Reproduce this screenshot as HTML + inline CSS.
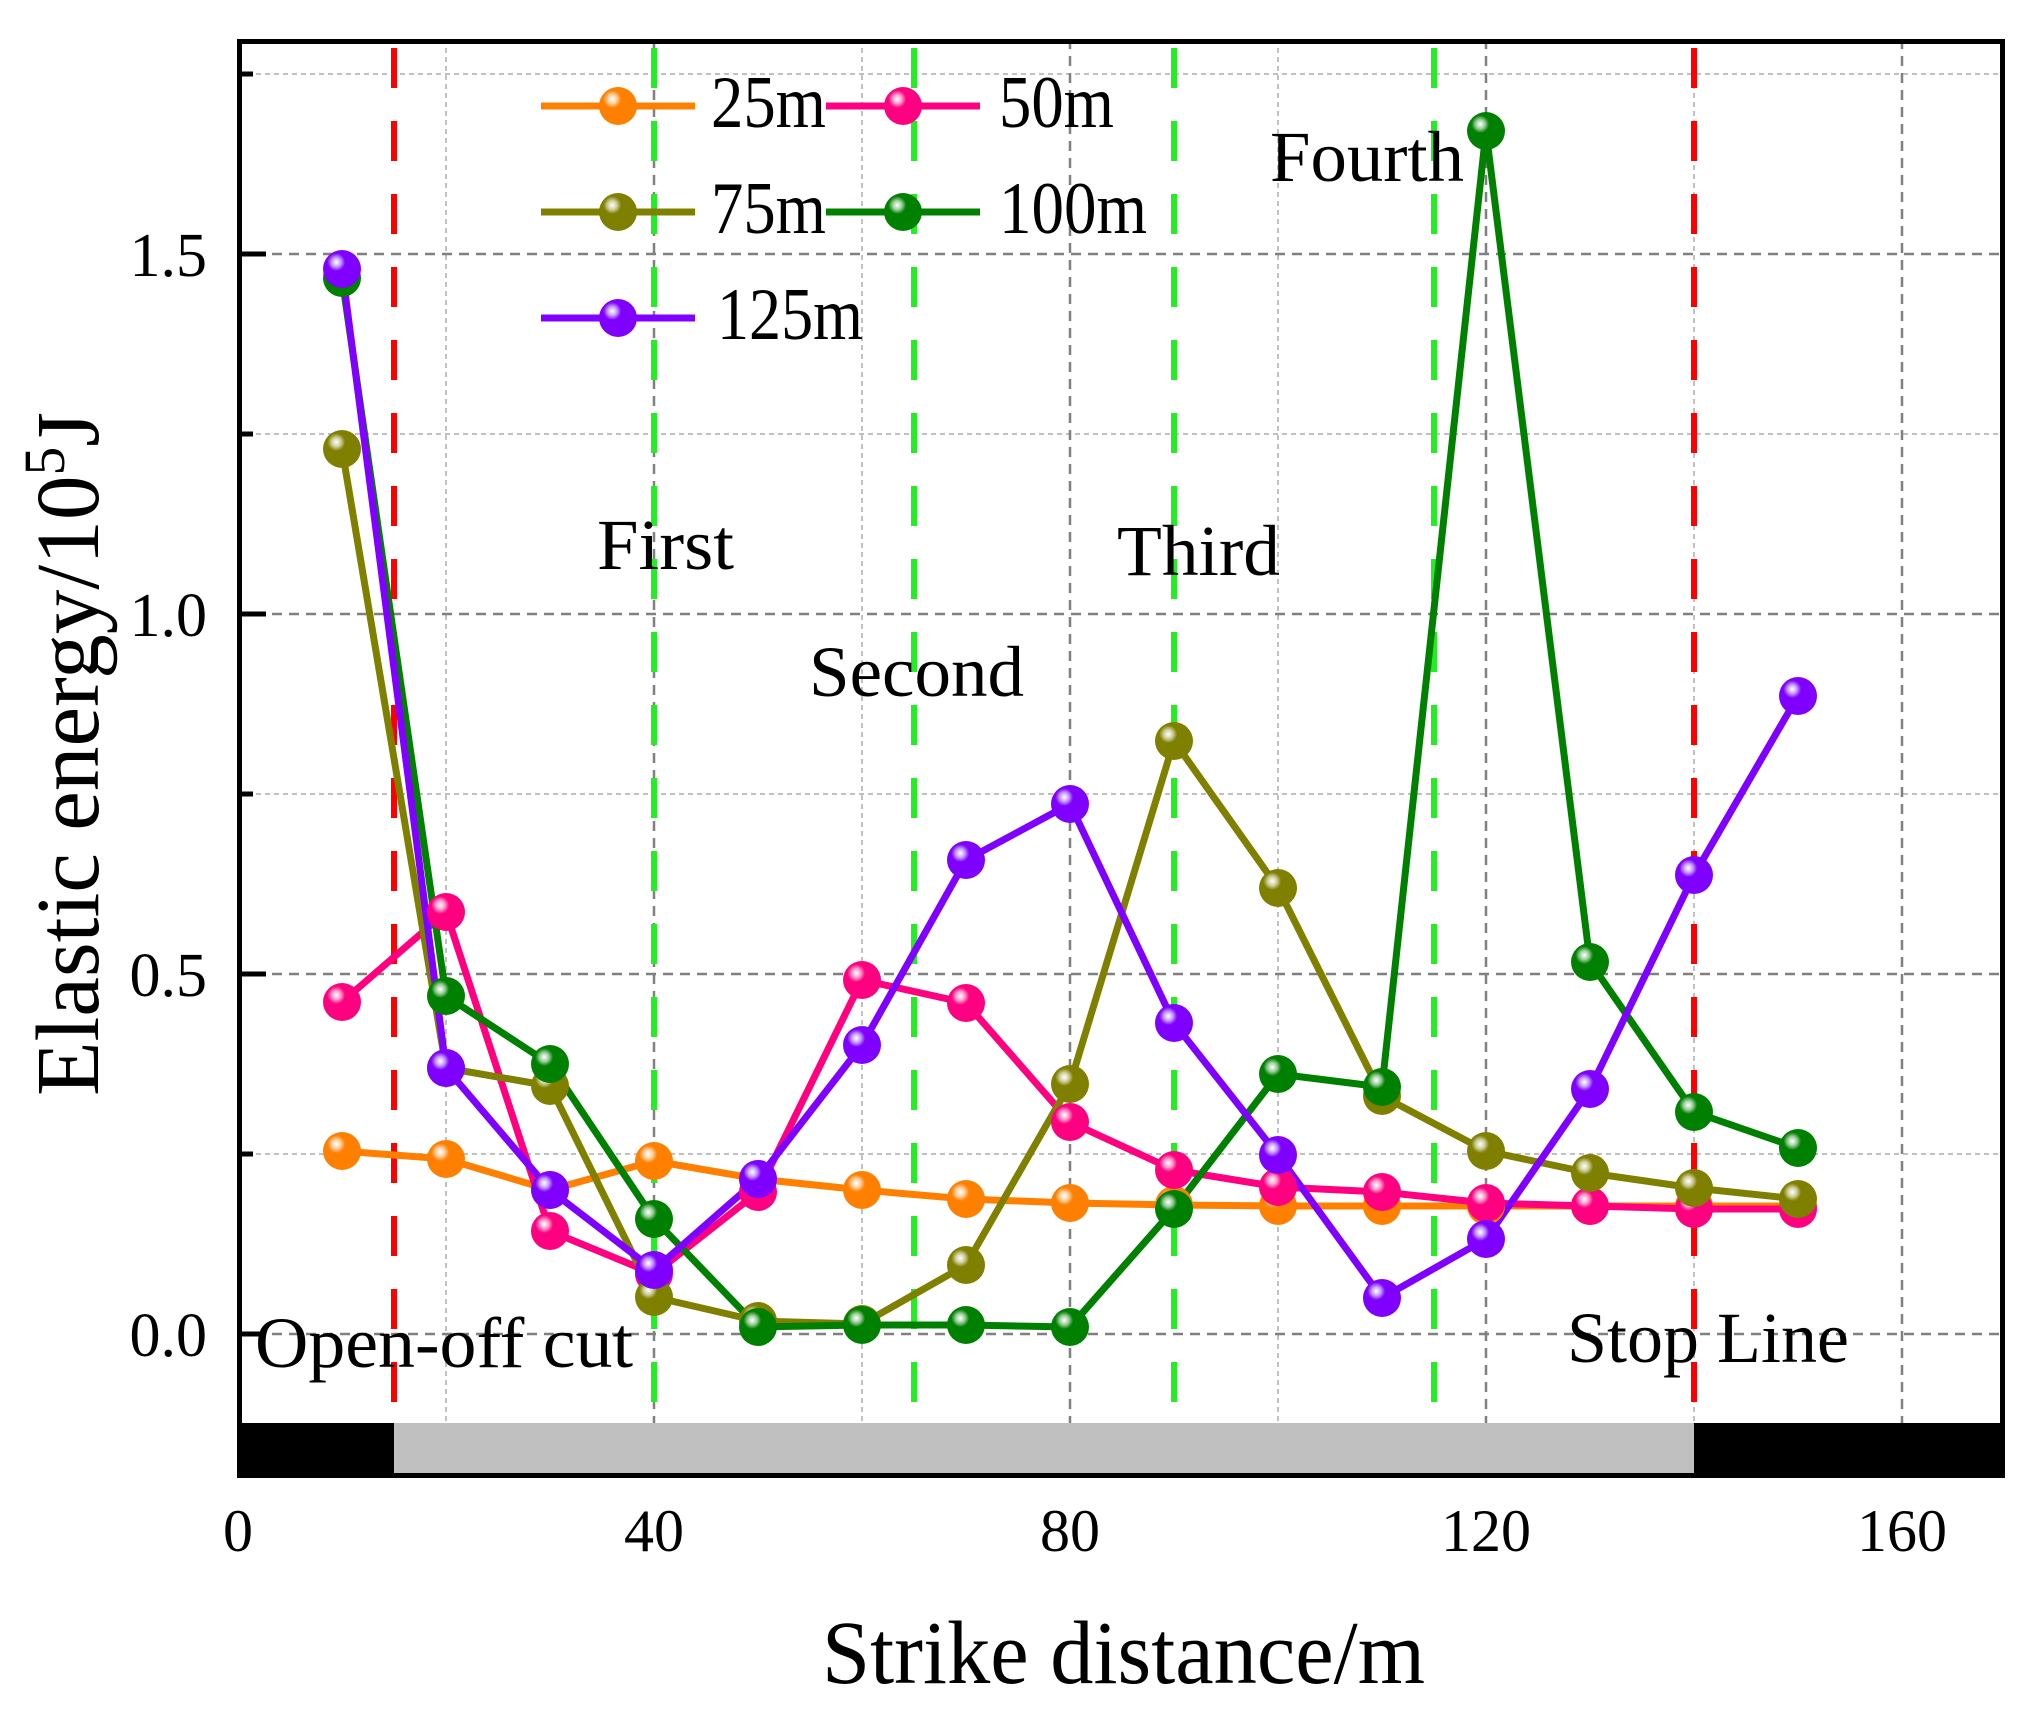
<!DOCTYPE html>
<html><head><meta charset="utf-8"><style>html,body{margin:0;padding:0;background:#fff}svg{display:block}</style></head>
<body>
<svg width="2028" height="1709" viewBox="0 0 2028 1709" xmlns="http://www.w3.org/2000/svg" font-family="Liberation Serif, serif">
<defs>
<radialGradient id="g25" cx="0.35" cy="0.32" r="0.65"><stop offset="0" stop-color="#fff"/><stop offset="0.18" stop-color="#ffd0a0"/><stop offset="0.36" stop-color="#ff8000"/><stop offset="1" stop-color="#ff8000"/></radialGradient>
<radialGradient id="g50" cx="0.35" cy="0.32" r="0.65"><stop offset="0" stop-color="#fff"/><stop offset="0.18" stop-color="#ff9ccc"/><stop offset="0.36" stop-color="#ff0080"/><stop offset="1" stop-color="#ff0080"/></radialGradient>
<radialGradient id="g75" cx="0.35" cy="0.32" r="0.65"><stop offset="0" stop-color="#fff"/><stop offset="0.18" stop-color="#d0d0a0"/><stop offset="0.36" stop-color="#808000"/><stop offset="1" stop-color="#808000"/></radialGradient>
<radialGradient id="g100" cx="0.35" cy="0.32" r="0.65"><stop offset="0" stop-color="#fff"/><stop offset="0.18" stop-color="#a0d0a0"/><stop offset="0.36" stop-color="#008000"/><stop offset="1" stop-color="#008000"/></radialGradient>
<radialGradient id="g125" cx="0.35" cy="0.32" r="0.65"><stop offset="0" stop-color="#fff"/><stop offset="0.18" stop-color="#c8a0ff"/><stop offset="0.36" stop-color="#8000ff"/><stop offset="1" stop-color="#8000ff"/></radialGradient>
</defs>
<g stroke="#c0c0c0" stroke-width="2" stroke-dasharray="5 4" fill="none">
<line x1="446" y1="39" x2="446" y2="1423"/><line x1="862" y1="39" x2="862" y2="1423"/><line x1="1278" y1="39" x2="1278" y2="1423"/><line x1="1694" y1="39" x2="1694" y2="1423"/>
<line x1="238" y1="74" x2="2005" y2="74"/><line x1="238" y1="434" x2="2005" y2="434"/><line x1="238" y1="794" x2="2005" y2="794"/><line x1="238" y1="1154" x2="2005" y2="1154"/>
</g>
<g stroke="#808080" stroke-width="2.5" stroke-dasharray="10 7" fill="none">
<line x1="654" y1="39" x2="654" y2="1423"/><line x1="1070" y1="39" x2="1070" y2="1423"/><line x1="1486" y1="39" x2="1486" y2="1423"/><line x1="1902" y1="39" x2="1902" y2="1423"/>
<line x1="238" y1="254" x2="2005" y2="254"/><line x1="238" y1="614" x2="2005" y2="614"/><line x1="238" y1="974" x2="2005" y2="974"/><line x1="238" y1="1334" x2="2005" y2="1334"/>
</g>
<g stroke-width="6" stroke-dasharray="40 33" fill="none">
<line x1="394" y1="48" x2="394" y2="1403" stroke="#ff0000"/>
<line x1="1694" y1="48" x2="1694" y2="1403" stroke="#ff0000"/>
<line x1="654" y1="48" x2="654" y2="1403" stroke="#22ee22"/>
<line x1="914" y1="48" x2="914" y2="1403" stroke="#22ee22"/>
<line x1="1174" y1="48" x2="1174" y2="1403" stroke="#22ee22"/>
<line x1="1434" y1="48" x2="1434" y2="1403" stroke="#22ee22"/>
</g>
<g font-size="72" fill="#000">
<text x="597" y="569" textLength="137" lengthAdjust="spacingAndGlyphs">First</text>
<text x="809" y="696" textLength="215" lengthAdjust="spacingAndGlyphs">Second</text>
<text x="1117" y="575" textLength="163" lengthAdjust="spacingAndGlyphs">Third</text>
<text x="1270" y="181" textLength="194" lengthAdjust="spacingAndGlyphs">Fourth</text>
<text x="255" y="1367" textLength="378" lengthAdjust="spacingAndGlyphs">Open-off cut</text>
<text x="1567" y="1362" textLength="282" lengthAdjust="spacingAndGlyphs">Stop Line</text>
</g>
<g fill="none" stroke-width="7" stroke-linejoin="round">
<polyline stroke="#ff8000" points="342,1151 446,1159 550,1190 654,1161 758,1179 862,1190 966,1199 1070,1203 1174,1205 1278,1206 1382,1206 1486,1206 1590,1206 1694,1206 1798,1206"/>
<polyline stroke="#ff0080" points="342,1002 446,912 550,1231 654,1274 758,1192 862,980 966,1003 1070,1122 1174,1170 1278,1187 1382,1192 1486,1203 1590,1206 1694,1209 1798,1209"/>
<polyline stroke="#808000" points="342,449 446,1068 550,1086 654,1297 758,1321 862,1324 966,1265 1070,1084 1174,741 1278,888 1382,1096 1486,1151 1590,1173 1694,1188 1798,1199"/>
<polyline stroke="#008000" points="342,278 446,996 550,1064 654,1219 758,1327 862,1325 966,1325 1070,1327 1174,1209 1278,1074 1382,1087 1486,131 1590,962 1694,1112 1798,1148"/>
<polyline stroke="#8000ff" points="342,269 446,1068 550,1190 654,1270 758,1179 862,1045 966,860 1070,804 1174,1023 1278,1155 1382,1298 1486,1239 1590,1089 1694,875 1798,696"/>
</g>
<g>
<g fill="url(#g25)"><circle cx="342" cy="1151" r="19"/><circle cx="446" cy="1159" r="19"/><circle cx="550" cy="1190" r="19"/><circle cx="654" cy="1161" r="19"/><circle cx="758" cy="1179" r="19"/><circle cx="862" cy="1190" r="19"/><circle cx="966" cy="1199" r="19"/><circle cx="1070" cy="1203" r="19"/><circle cx="1174" cy="1205" r="19"/><circle cx="1278" cy="1206" r="19"/><circle cx="1382" cy="1206" r="19"/><circle cx="1486" cy="1206" r="19"/><circle cx="1590" cy="1206" r="19"/><circle cx="1694" cy="1206" r="19"/><circle cx="1798" cy="1206" r="19"/></g>
<g fill="url(#g50)"><circle cx="342" cy="1002" r="19"/><circle cx="446" cy="912" r="19"/><circle cx="550" cy="1231" r="19"/><circle cx="654" cy="1274" r="19"/><circle cx="758" cy="1192" r="19"/><circle cx="862" cy="980" r="19"/><circle cx="966" cy="1003" r="19"/><circle cx="1070" cy="1122" r="19"/><circle cx="1174" cy="1170" r="19"/><circle cx="1278" cy="1187" r="19"/><circle cx="1382" cy="1192" r="19"/><circle cx="1486" cy="1203" r="19"/><circle cx="1590" cy="1206" r="19"/><circle cx="1694" cy="1209" r="19"/><circle cx="1798" cy="1209" r="19"/></g>
<g fill="url(#g75)"><circle cx="342" cy="449" r="19"/><circle cx="446" cy="1068" r="19"/><circle cx="550" cy="1086" r="19"/><circle cx="654" cy="1297" r="19"/><circle cx="758" cy="1321" r="19"/><circle cx="862" cy="1324" r="19"/><circle cx="966" cy="1265" r="19"/><circle cx="1070" cy="1084" r="19"/><circle cx="1174" cy="741" r="19"/><circle cx="1278" cy="888" r="19"/><circle cx="1382" cy="1096" r="19"/><circle cx="1486" cy="1151" r="19"/><circle cx="1590" cy="1173" r="19"/><circle cx="1694" cy="1188" r="19"/><circle cx="1798" cy="1199" r="19"/></g>
<g fill="url(#g100)"><circle cx="342" cy="278" r="19"/><circle cx="446" cy="996" r="19"/><circle cx="550" cy="1064" r="19"/><circle cx="654" cy="1219" r="19"/><circle cx="758" cy="1327" r="19"/><circle cx="862" cy="1325" r="19"/><circle cx="966" cy="1325" r="19"/><circle cx="1070" cy="1327" r="19"/><circle cx="1174" cy="1209" r="19"/><circle cx="1278" cy="1074" r="19"/><circle cx="1382" cy="1087" r="19"/><circle cx="1486" cy="131" r="19"/><circle cx="1590" cy="962" r="19"/><circle cx="1694" cy="1112" r="19"/><circle cx="1798" cy="1148" r="19"/></g>
<g fill="url(#g125)"><circle cx="342" cy="269" r="19"/><circle cx="446" cy="1068" r="19"/><circle cx="550" cy="1190" r="19"/><circle cx="654" cy="1270" r="19"/><circle cx="758" cy="1179" r="19"/><circle cx="862" cy="1045" r="19"/><circle cx="966" cy="860" r="19"/><circle cx="1070" cy="804" r="19"/><circle cx="1174" cy="1023" r="19"/><circle cx="1278" cy="1155" r="19"/><circle cx="1382" cy="1298" r="19"/><circle cx="1486" cy="1239" r="19"/><circle cx="1590" cy="1089" r="19"/><circle cx="1694" cy="875" r="19"/><circle cx="1798" cy="696" r="19"/></g>
</g>
<g stroke-width="7" fill="none">
<line x1="541" y1="106" x2="695" y2="106" stroke="#ff8000"/>
<line x1="826" y1="106" x2="980" y2="106" stroke="#ff0080"/>
<line x1="541" y1="212" x2="695" y2="212" stroke="#808000"/>
<line x1="826" y1="212" x2="980" y2="212" stroke="#008000"/>
<line x1="541" y1="318" x2="695" y2="318" stroke="#8000ff"/>
</g>
<circle cx="618" cy="106" r="19" fill="url(#g25)"/>
<circle cx="903" cy="106" r="19" fill="url(#g50)"/>
<circle cx="618" cy="212" r="19" fill="url(#g75)"/>
<circle cx="903" cy="212" r="19" fill="url(#g100)"/>
<circle cx="618" cy="318" r="19" fill="url(#g125)"/>
<g font-size="74" fill="#000">
<text x="711" y="127" textLength="115" lengthAdjust="spacingAndGlyphs">25m</text>
<text x="999" y="127" textLength="115" lengthAdjust="spacingAndGlyphs">50m</text>
<text x="711" y="233" textLength="115" lengthAdjust="spacingAndGlyphs">75m</text>
<text x="999" y="233" textLength="148" lengthAdjust="spacingAndGlyphs">100m</text>
<text x="717" y="339" textLength="146" lengthAdjust="spacingAndGlyphs">125m</text>
</g>
<rect x="238" y="1423" width="156" height="54" fill="#000"/>
<rect x="394" y="1423" width="1300" height="51" fill="#c0c0c0"/>
<rect x="1694" y="1423" width="311" height="54" fill="#000"/>
<rect x="239.5" y="41.5" width="1763" height="1434" fill="none" stroke="#000" stroke-width="5"/>
<g stroke="#000" stroke-width="5">
<line x1="239" y1="254" x2="266" y2="254"/><line x1="239" y1="614" x2="266" y2="614"/><line x1="239" y1="974" x2="266" y2="974"/><line x1="239" y1="1334" x2="266" y2="1334"/>
<line x1="239" y1="74" x2="253" y2="74"/><line x1="239" y1="434" x2="253" y2="434"/><line x1="239" y1="794" x2="253" y2="794"/><line x1="239" y1="1154" x2="253" y2="1154"/>
</g>
<g font-size="62" fill="#000" text-anchor="end">
<text x="207" y="276">1.5</text>
<text x="207" y="636">1.0</text>
<text x="207" y="996">0.5</text>
<text x="207" y="1356">0.0</text>
</g>
<g font-size="60" fill="#000" text-anchor="middle">
<text x="238" y="1551">0</text>
<text x="654" y="1551">40</text>
<text x="1070" y="1551">80</text>
<text x="1486" y="1551">120</text>
<text x="1902" y="1551">160</text>
</g>
<text x="822" y="1683" font-size="90" textLength="603" lengthAdjust="spacingAndGlyphs">Strike distance/m</text>
<text transform="translate(98,1096) rotate(-90)" font-size="90" textLength="684" lengthAdjust="spacingAndGlyphs">Elastic energy/10<tspan dy="-34" font-size="58">5</tspan><tspan dy="34">J</tspan></text>
</svg>
</body></html>
